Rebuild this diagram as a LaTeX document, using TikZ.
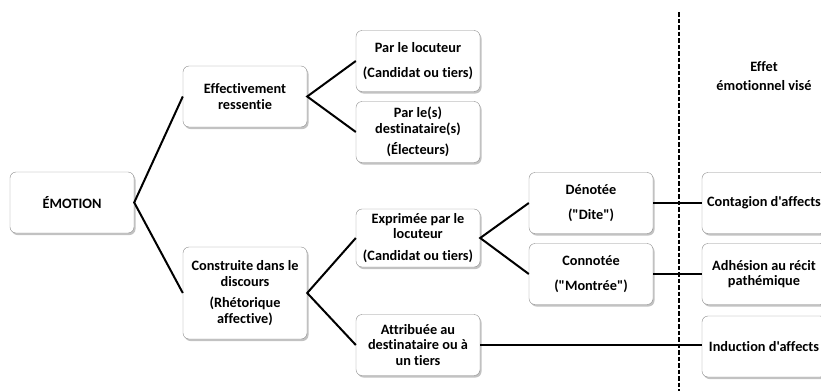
\documentclass[tikz,border=0pt]{standalone}
\usepackage{fontspec}
\setmainfont{Carlito}[Ligatures={TeXOff,NoCommon}]
\usetikzlibrary{shadows}
\definecolor{myboxgray}{RGB}{140,140,140}
\definecolor{myshadow}{RGB}{120,120,120}
\newcommand{\colstep}{173}
\newcommand{\widthbox}{124pt}
\tikzset{
    common/.style={draw=myboxgray, fill=white, rectangle, rounded corners=6pt,
        align=center, font=\fontsize{14.3}{15.5}\selectfont\bfseries, inner sep=2pt,
        drop shadow={shadow xshift=1.5pt, shadow yshift=-2pt, fill=myshadow, opacity=.45}},
    box/.style={common, minimum width=\widthbox, minimum height=61pt},
    tallbox/.style={common, minimum width=\widthbox, minimum height=92pt},
    link/.style={line width=2pt, black}
}

\begin{document}
\begin{tikzpicture}[x=1pt, y=-1pt]
            \useasboundingbox (0,0) rectangle (821,391);
            % colonne 1 et 2
            \node[box] (emotion) at (72,202.5) {ÉMOTION};
            \node[box] (ressentie) at (72+\colstep,96.5) {Effectivement\\ressentie};
            \node[tallbox] (construite) at (72+\colstep,293) {Construite dans le\\discours\\[6pt](Rhétorique\\affective)};
            % colonne 3
            \node[box] (locuteur) at (72+2*\colstep,61) {Par le locuteur\\[9pt](Candidat ou tiers)};
            \node[box] (destinataire) at (72+2*\colstep,132) {Par le(s)\\destinataire(s)\\[6pt](Électeurs)};
            \node[box, minimum height=58pt] (exprimee) at (72+2*\colstep,238) {Exprimée par le\\locuteur\\[6pt](Candidat ou tiers)};
            \node[box] (attribuee) at (72+2*\colstep,345) {Attribuée au\\destinataire ou à\\un tiers};
            % colonne 4
            \node[box] (denotee) at (72+3*\colstep,203) {Dénotée\\[9pt]("Dite")};
            \node[box] (connotee) at (72+3*\colstep,274) {Connotée\\[9pt]("Montrée")};
            % effets
            \node[box] (contagion) at (72+4*\colstep,203) {Contagion d'affects};
            \node[box] (adhesion) at (72+4*\colstep,274) {Adhésion au récit\\pathémique};
            \node[box] (induction) at (72+4*\colstep,346.5) {Induction d'affects};
            \node[align=center, font=\fontsize{14.3}{15.5}\selectfont\bfseries] (effet) at (764,76) {Effet\\[3pt]émotionnel visé};

            \draw[line width=1.5pt, dash pattern=on 4.5pt off 2pt] (679,12) -- (679,391);

            \draw[link] (ressentie.west) -- (emotion.east) -- (construite.west);
            \draw[link] (locuteur.west) -- (ressentie.east) -- (destinataire.west);
            \draw[link] (exprimee.west) -- (construite.east) -- (attribuee.west);
            \draw[link] (denotee.west) -- (exprimee.east) -- (connotee.west);
            \draw[link] (denotee) -- (contagion);
            \draw[link] (connotee) -- (adhesion);
            \draw[link] (attribuee.east) -- (induction.west |- attribuee.east);
        \end{tikzpicture}
\end{document}
